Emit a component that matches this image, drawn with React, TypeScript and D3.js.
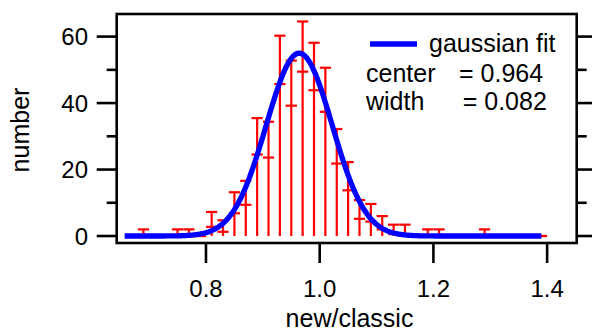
import React from "react";
import * as d3 from "d3";

// Histogram of new/classic ratios (bin centres and counts)
const binCenters = [
  0.67, 0.69, 0.71, 0.73, 0.75, 0.77, 0.79, 0.81, 0.83, 0.85, 0.87, 0.89, 0.91,
  0.93, 0.95, 0.97, 0.99, 1.01, 1.03, 1.05, 1.07, 1.09, 1.11, 1.13, 1.15, 1.17,
  1.19, 1.21, 1.23, 1.25, 1.27, 1.29, 1.31, 1.33, 1.35, 1.37, 1.39,
];
const counts = [
  0, 1, 0, 0, 1, 1, 0, 5, 3, 10, 13, 30, 29, 53, 46, 57, 51, 44, 27, 18, 8, 7,
  4, 2, 2, 0, 1, 1, 0, 0, 0, 1, 0, 0, 0, 0, 0,
];

// Gaussian fit parameters
const fitCenter = 0.964;
const fitWidth = 0.082;
const fitAmplitude = 55;
const fitRange = [0.657, 1.39];

const xTicks = [0.8, 1.0, 1.2, 1.4];
const yMajorTicks = [0, 20, 40, 60];
const yMinorTicks = [10, 30, 50];

const W = 592;
const H = 332;
const left = 116.7;
const right = 576.7;
const top = 14;
const bottom = 243;

const FONT = "'Liberation Sans', Arial, Helvetica, sans-serif";

export default function App() {
  const x = d3.scaleLinear().domain([0.643, 1.452]).range([left, right]);
  const y = d3.scaleLinear().domain([-2.1, 66.8]).range([bottom, top]);

  const fitPts: [number, number][] = d3
    .range(0, 401)
    .map((i) => fitRange[0] + ((fitRange[1] - fitRange[0]) * i) / 400)
    .map((v) => [
      v,
      fitAmplitude * Math.exp(-Math.pow((v - fitCenter) / fitWidth, 2)),
    ]);
  const line = d3
    .line<[number, number]>()
    .x((d) => x(d[0]))
    .y((d) => y(d[1]));

  const capHalf = 5.6;
  const fs = 24;
  const fsL = 25;

  return (
    <svg
      width={W}
      height={H}
      style={{ position: "absolute", left: 0, top: 0, background: "#fff" }}
      fontFamily={FONT}
    >
      {/* histogram sticks with sqrt(N) error bars */}
      <g stroke="#ff0000" strokeWidth={2.2} fill="none">
        {binCenters.map((c, i) => {
          const n = counts[i];
          const e = Math.sqrt(n);
          const cx = x(c);
          return (
            <g key={i}>
              {n > 0 && <line x1={cx} x2={cx} y1={y(0)} y2={y(n + e)} />}
              <line x1={cx - capHalf} x2={cx + capHalf} y1={y(n + e)} y2={y(n + e)} />
              <line x1={cx - capHalf} x2={cx + capHalf} y1={y(n - e)} y2={y(n - e)} />
            </g>
          );
        })}
      </g>

      {/* fit curve */}
      <path d={line(fitPts) || ""} stroke="#0000ff" strokeWidth={5.3} fill="none" />

      {/* frame */}
      <rect
        x={left}
        y={top}
        width={right - left}
        height={bottom - top}
        fill="none"
        stroke="#000"
        strokeWidth={2.6}
      />

      {/* axes ticks */}
      <g stroke="#000" strokeWidth={2.6}>
        {xTicks.map((t) => (
          <line key={t} x1={x(t)} x2={x(t)} y1={bottom} y2={bottom + 20} />
        ))}
        {yMajorTicks.map((t) => (
          <g key={t}>
            <line x1={left - 20} x2={left} y1={y(t)} y2={y(t)} />
            <line x1={right} x2={right + 20} y1={y(t)} y2={y(t)} />
          </g>
        ))}
        {yMinorTicks.map((t) => (
          <g key={t}>
            <line x1={left - 10} x2={left} y1={y(t)} y2={y(t)} />
            <line x1={right} x2={right + 10} y1={y(t)} y2={y(t)} />
          </g>
        ))}
      </g>

      {/* tick labels */}
      <g fontSize={fs} fill="#000">
        {xTicks.map((t) => (
          <text key={t} x={x(t)} y={297} textAnchor="middle">
            {d3.format(".1f")(t)}
          </text>
        ))}
        {yMajorTicks.map((t) => (
          <text key={t} x={88} y={y(t) + 8.5} textAnchor="end">
            {t}
          </text>
        ))}
      </g>

      {/* axis titles */}
      <text x={349.5} y={327} fontSize={fsL} textAnchor="middle">
        new/classic
      </text>
      <text
        transform={`translate(29,130) rotate(-90)`}
        fontSize={fsL}
        textAnchor="middle"
      >
        number
      </text>

      {/* legend */}
      <line x1={370} x2={417} y1={44} y2={44} stroke="#0000ff" strokeWidth={5.3} />
      <text x={429} y={52} fontSize={fsL}>
        gaussian fit
      </text>
      <text x={366} y={82} fontSize={fsL}>
        center
      </text>
      <text x={459} y={82} fontSize={fsL}>
        {"= " + fitCenter.toFixed(3)}
      </text>
      <text x={366} y={110} fontSize={fsL}>
        width
      </text>
      <text x={462.7} y={110} fontSize={fsL}>
        {"= " + fitWidth.toFixed(3)}
      </text>
    </svg>
  );
}
